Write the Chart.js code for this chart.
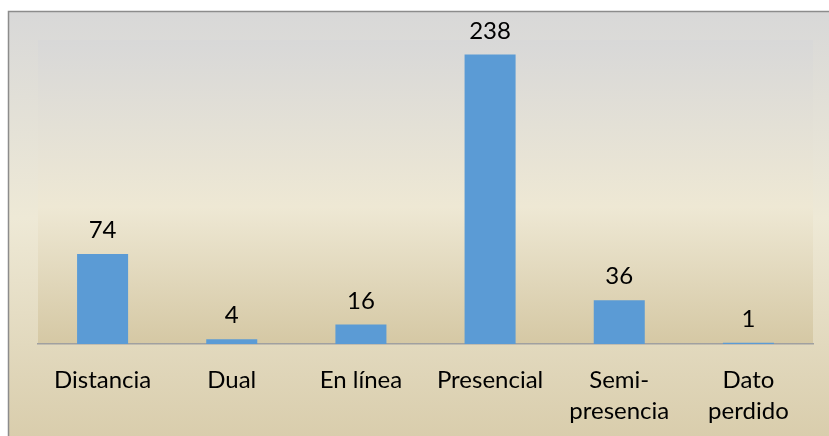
<!DOCTYPE html>
<html>
<head>
<meta charset="utf-8">
<script src="https://cdn.jsdelivr.net/npm/chart.js@4.4.0/dist/chart.umd.min.js"></script>
<style>
html,body{margin:0;padding:0;background:#ffffff;}
#wrap{width:829px;height:436px;position:relative;}
</style>
</head>
<body>
<div id="wrap"><canvas id="c" width="829" height="436"></canvas></div>
<script>
const categories = [["Distancia"], ["Dual"], ["En línea"], ["Presencial"], ["Semi-", "presencia"], ["Dato", "perdido"]];
const values = [74, 4, 16, 238, 36, 1];
const yMin = 0;
const yMax = 250;

const FONT = "Lato, 'Open Sans', sans-serif";

const bgPlugin = {
  id: 'bgPlugin',
  beforeDraw(chart) {
    const ctx = chart.ctx;
    const W = chart.width, H = chart.height;
    const ox = 8.5, oy = 11.5;
    let g = ctx.createLinearGradient(0, oy, 0, 470);
    g.addColorStop(0, '#d8d8d8');
    g.addColorStop(0.45, '#eee9d6');
    g.addColorStop(1, '#d6c9a6');
    ctx.save();
    ctx.fillStyle = g;
    ctx.fillRect(ox, oy, W, H);
    const a = chart.chartArea;
    let g2 = ctx.createLinearGradient(0, a.top, 0, a.bottom);
    g2.addColorStop(0, '#d8d8d8');
    g2.addColorStop(0.55, '#eee8d4');
    g2.addColorStop(1, '#d5c8a4');
    ctx.fillStyle = g2;
    ctx.fillRect(a.left, a.top, a.right - a.left, a.bottom - a.top);
    ctx.strokeStyle = '#8c8c8c';
    ctx.lineWidth = 1.5;
    ctx.beginPath();
    ctx.moveTo(ox, H + 5);
    ctx.lineTo(ox, oy);
    ctx.lineTo(W + 5, oy);
    ctx.stroke();
    ctx.restore();
  }
};

const labelPlugin = {
  id: 'labelPlugin',
  afterDatasetsDraw(chart) {
    const ctx = chart.ctx;
    const meta = chart.getDatasetMeta(0);
    ctx.save();
    ctx.fillStyle = '#000000';
    ctx.font = "24px " + FONT;
    ctx.textAlign = 'center';
    ctx.textBaseline = 'alphabetic';
    meta.data.forEach((bar, i) => {
      ctx.fillText(String(chart.data.datasets[0].data[i]), bar.x, bar.y - 16);
    });
    ctx.restore();
  }
};

new Chart(document.getElementById('c'), {
  type: 'bar',
  data: {
    labels: categories,
    datasets: [{
      data: values,
      backgroundColor: '#5b9bd5',
      borderWidth: 0,
      barPercentage: 0.395,
      categoryPercentage: 1.0
    }]
  },
  options: {
    responsive: false,
    animation: false,
    devicePixelRatio: 1,
    layout: { padding: { left: 38, right: 16, top: 40, bottom: 0 } },
    plugins: { legend: { display: false }, tooltip: { enabled: false } },
    scales: {
      y: { display: false, min: yMin, max: yMax },
      x: {
        grid: { display: false, drawTicks: false },
        border: { display: true, color: '#a0a0a0', width: 1.5 },
        afterFit(scale) { scale.height = 92; },
        ticks: {
          color: '#000000',
          padding: 21,
          maxRotation: 0,
          autoSkip: false,
          font: { family: FONT, size: 24, lineHeight: 1.29 }
        }
      }
    }
  },
  plugins: [bgPlugin, labelPlugin]
});
</script>
</body>
</html>
